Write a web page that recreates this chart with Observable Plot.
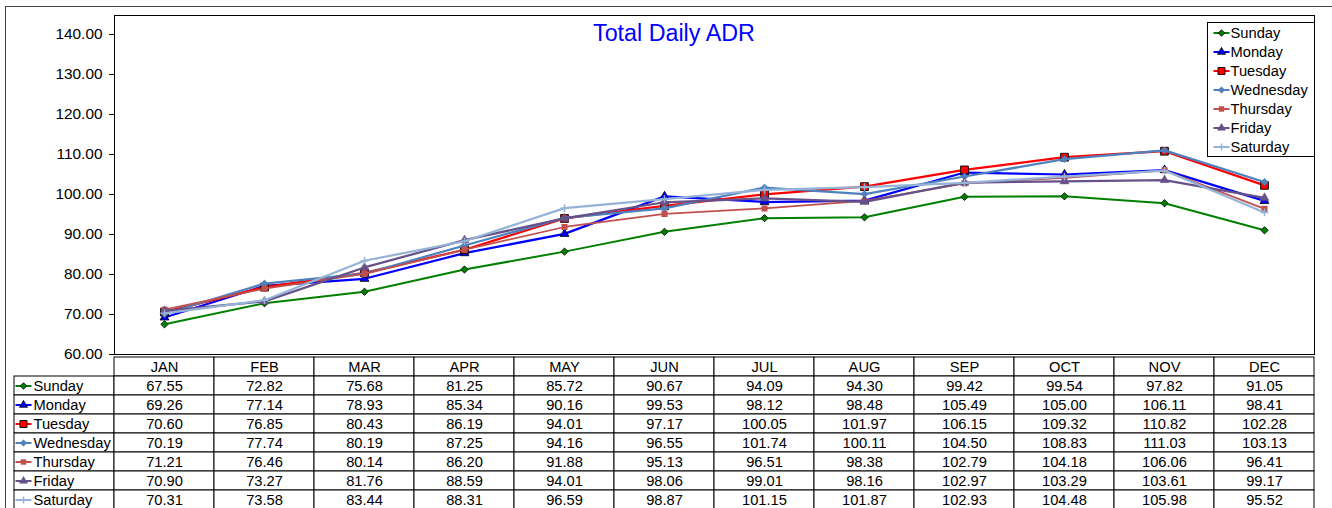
<!DOCTYPE html>
<html><head><meta charset="utf-8">
<script src="https://cdn.jsdelivr.net/npm/d3@7"></script>
<script src="https://cdn.jsdelivr.net/npm/@observablehq/plot@0.6"></script>
<style>
body{margin:0;background:#fff;font-family:"Liberation Sans",Arial,sans-serif;}
#root{position:relative;width:1332px;height:508px;overflow:hidden;background:#fff}
#root svg{position:absolute;background:transparent;overflow:visible}
#outer{position:absolute;left:5px;top:6px;width:1400px;height:600px;border:1px solid #444;box-sizing:border-box;pointer-events:none}
</style></head><body><div id="root"></div>
<script>
const months = ["JAN","FEB","MAR","APR","MAY","JUN","JUL","AUG","SEP","OCT","NOV","DEC"];
const seriesNames = ["Sunday","Monday","Tuesday","Wednesday","Thursday","Friday","Saturday"];
const sunday    = [67.55,72.82,75.68,81.25,85.72,90.67,94.09,94.30,99.42,99.54,97.82,91.05];
const monday    = [69.26,77.14,78.93,85.34,90.16,99.53,98.12,98.48,105.49,105.00,106.11,98.41];
const tuesday   = [70.60,76.85,80.43,86.19,94.01,97.17,100.05,101.97,106.15,109.32,110.82,102.28];
const wednesday = [70.19,77.74,80.19,87.25,94.16,96.55,101.74,100.11,104.50,108.83,111.03,103.13];
const thursday  = [71.21,76.46,80.14,86.20,91.88,95.13,96.51,98.38,102.79,104.18,106.06,96.41];
const friday    = [70.90,73.27,81.76,88.59,94.01,98.06,99.01,98.16,102.97,103.29,103.61,99.17];
const saturday  = [70.31,73.58,83.44,88.31,96.59,98.87,101.15,101.87,102.93,104.48,105.98,95.52];
const yTicks = [60,70,80,90,100,110,120,130,140];
const titleText = "Total Daily ADR";

const seriesValues = [sunday,monday,tuesday,wednesday,thursday,friday,saturday];
const data = seriesNames.flatMap((s,i)=>months.map((m,j)=>({series:s, month:m, value:seriesValues[i][j]})));

const styles = {
  Sunday:    {color:"#008000", width:2,   symbol:"diamond2", r:3.3, fill:"#008000", stroke:"#000", sw:0.8},
  Monday:    {color:"#0000FF", width:2.25,symbol:"triangle", r:3.3, fill:"#0000FF", stroke:"#000", sw:0.8},
  Tuesday:   {color:"#FF0000", width:2.25,symbol:"square",   r:4.4, fill:"#FF0000", stroke:"#000", sw:0.9},
  Wednesday: {color:"#4F81BD", width:2.25,symbol:"diamond2", r:3.3, fill:"#4F81BD", stroke:"#4F81BD", sw:0.5},
  Thursday:  {color:"#C0504D", width:1.75,symbol:"square",   r:3.4, fill:"#C0504D", stroke:"none", sw:0},
  Friday:    {color:"#665189", width:2.25,symbol:"triangle", r:3.3, fill:"#665189", stroke:"#665189", sw:0.5},
  Saturday:  {color:"#95B3D7", width:2.25,symbol:"plus",     r:2.6, fill:"none",    stroke:"#95B3D7", sw:1.5}
};
const hline = {draw(ctx){ctx.moveTo(-8,0); ctx.lineTo(8,0);}};
const font = '"Liberation Sans", Arial, sans-serif';

const root = document.getElementById("root");

// ---- Chart ----
const chartMarks = [Plot.frame({stroke:"#000"})];
for (const s of seriesNames) {
  const st = styles[s];
  const d = data.filter(x=>x.series===s);
  chartMarks.push(Plot.line(d,{x:"month",y:"value",stroke:st.color,strokeWidth:st.width}));
  chartMarks.push(Plot.dot(d,{x:"month",y:"value",symbol:st.symbol,r:st.r,fill:st.fill,stroke:st.stroke,strokeWidth:st.sw}));
}
chartMarks.push(Plot.text([titleText],{text:d=>d,frameAnchor:"top",dx:-40.6,dy:9,lineAnchor:"top",fontSize:23.3,fill:"#0000FF"}));

const chart = Plot.plot({
  width:1332, height:366,
  marginLeft:114, marginRight:18, marginTop:15, marginBottom:12,
  style:{fontFamily:font, fontSize:"15.4px", color:"#000", background:"transparent", overflow:"visible"},
  x:{type:"point", domain:months, padding:0.5, axis:null},
  y:{domain:[60,144.75], ticks:yTicks, tickFormat:d3.format(".2f"), tickSize:5, tickPadding:7, label:null},
  marks: chartMarks
});
chart.style.left="0px"; chart.style.top="0px";
root.appendChild(chart);

// ---- Table ----
const rowKeys = ["__head", ...seriesNames];
const cols = ["__label", ...months];
const headCells = months.map(m=>({col:m,row:"__head",text:m}));
const labelCells = seriesNames.map(s=>({col:"__label",row:s,text:s}));
const valueCells = data.map(d=>({col:d.month,row:d.series,text:d.value.toFixed(2)}));

const tableMarks = [
  Plot.cell([...headCells,...labelCells,...valueCells],{x:"col",y:"row",fill:"white",stroke:"#000",strokeWidth:1,inset:0}),
  Plot.text([...headCells,...valueCells],{x:"col",y:"row",text:"text",fontSize:14.7,fill:"#000"}),
  Plot.text(labelCells,{x:"col",y:"row",text:"text",textAnchor:"start",dx:-31,fontSize:14.7,fill:"#000"})
];
for (const s of seriesNames) {
  const st = styles[s];
  const d = labelCells.filter(c=>c.row===s);
  tableMarks.push(Plot.dot(d,{x:"col",y:"row",dx:-41,symbol:hline,fill:"none",stroke:st.color,strokeWidth:2}));
  tableMarks.push(Plot.dot(d,{x:"col",y:"row",dx:-41,symbol:st.symbol,r:st.r*0.9,fill:st.fill,stroke:st.stroke,strokeWidth:st.sw}));
}
const table = Plot.plot({
  width:1332, height:157,
  marginLeft:14, marginRight:18, marginTop:0, marginBottom:0,
  style:{fontFamily:font, fontSize:"14.7px", color:"#000", background:"transparent"},
  x:{type:"band", domain:cols, padding:0, axis:null},
  y:{type:"band", domain:rowKeys, padding:0, axis:null},
  marks: tableMarks
});
table.style.left="0px"; table.style.top="354px";
root.appendChild(table);

// ---- Legend ----
const legendMarks = [Plot.frame({stroke:"#000", fill:"white"})];
for (const s of seriesNames) {
  const st = styles[s];
  legendMarks.push(Plot.dot([s],{y:d=>d,frameAnchor:"left",dx:14,symbol:hline,fill:"none",stroke:st.color,strokeWidth:2}));
  legendMarks.push(Plot.dot([s],{y:d=>d,frameAnchor:"left",dx:14,symbol:st.symbol,r:st.r*0.9,fill:st.fill,stroke:st.stroke,strokeWidth:st.sw}));
}
legendMarks.push(Plot.text(seriesNames,{y:d=>d,text:d=>d,frameAnchor:"left",dx:23,textAnchor:"start",fontSize:14.7,fill:"#000"}));
const legend = Plot.plot({
  width:108, height:135,
  marginLeft:0, marginRight:1, marginTop:0, marginBottom:1,
  style:{fontFamily:font, fontSize:"14.7px", color:"#000", background:"transparent"},
  y:{type:"band", domain:seriesNames, padding:0, axis:null},
  marks: legendMarks
});
legend.style.left="1207px"; legend.style.top="22px";
root.appendChild(legend);

const outer = document.createElement("div");
outer.id="outer";
root.appendChild(outer);
</script>
</body></html>
